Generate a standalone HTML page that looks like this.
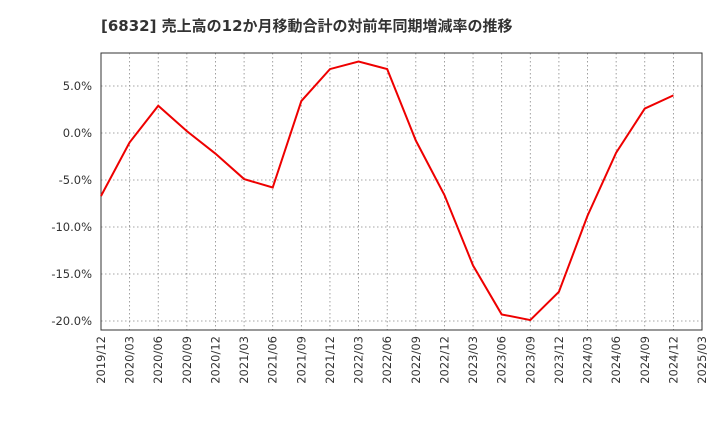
<!DOCTYPE html>
<html><head><meta charset="utf-8"><style>
body{margin:0;background:#fff;width:720px;height:440px;overflow:hidden}
svg{display:block;font-family:"DejaVu Sans","Noto Sans CJK JP",sans-serif}
</style></head><body>
<svg id="c" width="720" height="440">
<text x="101" y="31" font-size="15" font-weight="bold" fill="#333">[6832]  売上高の12か月移動合計の対前年同期増減率の推移</text>
<g id="grid"></g><g id="axes"></g><g id="series"></g>
</svg>
<script>
const categories=["2019/12","2020/03","2020/06","2020/09","2020/12","2021/03","2021/06","2021/09","2021/12","2022/03","2022/06","2022/09","2022/12","2023/03","2023/06","2023/09","2023/12","2024/03","2024/06","2024/09","2024/12","2025/03"];
const values=[-6.7,-1.0,2.9,0.2,-2.2,-4.9,-5.8,3.4,6.8,7.6,6.8,-0.8,-6.6,-14.1,-19.3,-19.9,-16.9,-8.8,-2.1,2.6,4.0];
const yTicks=[5,0,-5,-10,-15,-20];
const yTickLabels=["5.0%","0.0%","-5.0%","-10.0%","-15.0%","-20.0%"];
const L=101,R=702,T=53,B=330;
const x=i=>L+(R-L)*i/(categories.length-1);
const y=v=>133-v*9.4;
const NS="http://www.w3.org/2000/svg";
function mk(p,t,a){const e=document.createElementNS(NS,t);for(const k in a)e.setAttribute(k,a[k]);p.appendChild(e);return e;}
const g=document.getElementById('grid'),ax=document.getElementById('axes'),s=document.getElementById('series');
categories.forEach((c,i)=>{
 const l=mk(g,'line',{x1:x(i),x2:x(i),y1:T,y2:B,stroke:'#888','stroke-width':0.8,'stroke-dasharray':'1.5,2.5'});
 
 
 const t=mk(ax,'text',{x:0,y:0,'font-size':11.5,fill:'#333','text-anchor':'end',transform:`translate(${x(i)+4},${B+6}) rotate(-90)`});
 t.textContent=c;
 
 
});
yTicks.forEach((v,i)=>{
 const l=mk(g,'line',{x1:L,x2:R,y1:y(v),y2:y(v),stroke:'#888','stroke-width':0.8,'stroke-dasharray':'1.5,2.5'});
 
 
 const t=mk(ax,'text',{x:L-9,y:y(v)+4,'font-size':11.5,fill:'#333','text-anchor':'end'});
 t.textContent=yTickLabels[i];
 
 
});
const f=mk(ax,'rect',{x:L,y:T,width:R-L,height:B-T,fill:'none',stroke:'#333','stroke-width':1});


const p=mk(s,'polyline',{points:values.map((v,i)=>x(i)+','+y(v)).join(' '),fill:'none',stroke:'#e00','stroke-width':2});


</script>
</body></html>
